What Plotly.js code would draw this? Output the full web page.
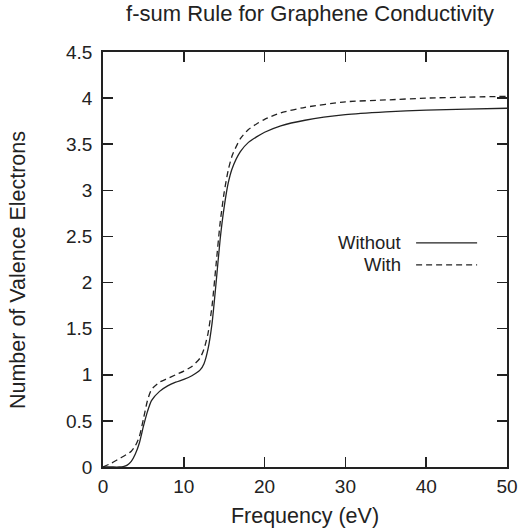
<!DOCTYPE html>
<html>
<head>
<meta charset="utf-8">
<script src="https://cdn.plot.ly/plotly-3.0.1.min.js"></script>
<style>html,body{margin:0;padding:0;background:#fff;}#chart{width:522px;height:529px;}</style>
</head>
<body>
<div id="chart"></div>
<script>
const withoutFreq = [0,1,2,2.5,3,3.5,4,4.5,5,5.5,6,7,8,9,10,11,12,12.5,13,13.5,14,14.5,15,15.5,16,17,18,19,20,22,25,30,35,40,45,50];
const withoutN    = [0,0,0,0.005,0.02,0.06,0.14,0.26,0.44,0.6,0.72,0.82,0.88,0.92,0.95,0.99,1.05,1.12,1.28,1.56,2.0,2.47,2.82,3.08,3.24,3.42,3.52,3.58,3.63,3.7,3.76,3.82,3.85,3.87,3.88,3.89];
const withFreq = [0,1,2,3,3.5,4,4.5,5,5.5,6,7,8,9,10,11,12,12.5,13,13.5,14,14.5,15,15.5,16,17,18,19,20,22,25,30,35,40,45,50];
const withN    = [0,0.04,0.09,0.14,0.17,0.23,0.33,0.52,0.72,0.84,0.92,0.96,1.0,1.04,1.09,1.18,1.28,1.45,1.75,2.2,2.65,2.98,3.22,3.38,3.56,3.66,3.72,3.77,3.84,3.9,3.96,3.98,4.0,4.01,4.02];
const seriesNames = ["Without", "With"];
const xTicks = [0,10,20,30,40,50];
const yTicks = [0,0.5,1,1.5,2,2.5,3,3.5,4,4.5];

const lineColor = "#222";
const traces = [
  {x: withoutFreq, y: withoutN, mode: "lines", name: seriesNames[0], line: {color: lineColor, width: 1.3, shape: "spline", smoothing: 0.6}, showlegend: false},
  {x: withFreq, y: withN, mode: "lines", name: seriesNames[1], line: {color: lineColor, width: 1.3, dash: "6px,4px", shape: "spline", smoothing: 0.6}, showlegend: false}
];

const fam = "Liberation Sans, Arial, sans-serif";
const axisCommon = {
  showgrid: false, zeroline: false, showline: true, linecolor: "#222", linewidth: 1.8,
  mirror: "allticks", ticks: "inside", ticklen: 10, tickwidth: 1.6, tickcolor: "#222",
  tickfont: {family: fam, size: 19, color: "#222"}
};
const legendY = [0.540, 0.487];
const annotations = seriesNames.map((n, i) => ({
  text: n, xref: "paper", yref: "paper", x: 0.743, y: legendY[i], xanchor: "right", yanchor: "middle",
  showarrow: false, font: {family: fam, size: 18.5, color: "#222"}
}));
annotations.push({
  text: "Number of Valence Electrons", xref: "paper", yref: "paper", x: -0.21, y: 0.475,
  xanchor: "center", yanchor: "middle", textangle: -90, showarrow: false,
  font: {family: fam, size: 21.5, color: "#222"}
});
const layout = {
  width: 522, height: 529,
  margin: {l: 103, r: 15, t: 52, b: 62},
  paper_bgcolor: "#fff", plot_bgcolor: "#fff",
  font: {family: fam, color: "#222"},
  title: {text: "f-sum Rule for Graphene Conductivity", font: {family: fam, size: 22, color: "#222"}, x: 0.594, xanchor: "center", y: 0.99, yanchor: "top"},
  xaxis: Object.assign({}, axisCommon, {range: [0, 50], tickvals: xTicks, ticktext: xTicks.map(String), ticklabelstandoff: 1,
    title: {text: "Frequency (eV)", font: {family: fam, size: 21.5, color: "#222"}, standoff: 12}}),
  yaxis: Object.assign({}, axisCommon, {range: [0, 4.5], tickvals: yTicks, ticktext: yTicks.map(String), ticklabelstandoff: 5}),
  showlegend: false,
  annotations: annotations,
  shapes: seriesNames.map((n, i) => ({
    type: "line", xref: "paper", yref: "paper", x0: 0.775, x1: 0.926, y0: legendY[i], y1: legendY[i],
    line: {color: lineColor, width: 1.3, dash: i === 0 ? "solid" : "6px,4px"}
  }))
};
Plotly.newPlot("chart", traces, layout, {displayModeBar: false, staticPlot: true});
</script>
</body>
</html>
